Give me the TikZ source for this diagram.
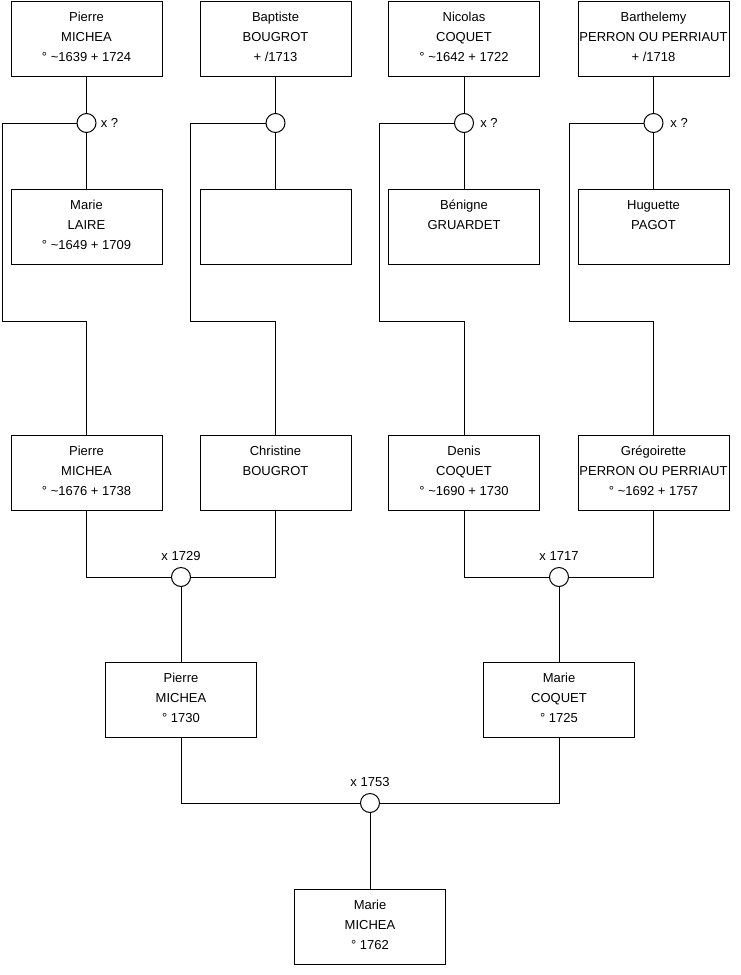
\documentclass[tikz,border=0pt]{standalone}
\usepackage{fontspec}
\setmainfont{Liberation Sans}
\begin{document}
\begin{tikzpicture}[x=0.75pt,y=-0.75pt,
  box/.style={draw, line width=0.75pt, minimum width=113.25pt, minimum height=56.25pt, inner sep=0pt},
  txt/.style={anchor=north, align=center, inner sep=0pt, font=\fontsize{9.75}{15}\selectfont, yshift=-4.9pt},
  ring/.style={circle, draw, line width=0.75pt, fill=white, minimum size=14.25pt, inner sep=0pt},
  lbl/.style={font=\fontsize{9.75}{12}\selectfont, inner sep=0pt},
  link/.style={line width=0.75pt}]
\useasboundingbox (0,0) rectangle (740,975);

% top row
\node[box] (a1) at (86.5,38.5) {};
\node[txt] (ta1) at (a1.north) {\strut Pierre\\MICHEA\\° \textasciitilde1639 + 1724};
\node[box] (a2) at (275.5,38.5) {};
\node[txt] (ta2) at (a2.north) {\strut Baptiste\\BOUGROT\\+ /1713};
\node[box] (a3) at (464,38.5) {};
\node[txt] (ta3) at (a3.north) {\strut Nicolas\\COQUET\\° \textasciitilde1642 + 1722};
\node[box] (a4) at (653.5,38.5) {};
\node[txt] (ta4) at (a4.north) {\strut Barthelemy\\PERRON OU PERRIAUT\\+ /1718};

% spouses
\node[box] (b1) at (86.5,227) {};
\node[txt] (tb1) at (b1.north) {\strut Marie\\LAIRE\\° \textasciitilde1649 + 1709};
\node[box] (b2) at (275.5,227) {};
\node[box] (b3) at (464,227) {};
\node[txt] (tb3) at (b3.north) {\strut Bénigne\\GRUARDET};
\node[box] (b4) at (653.5,227) {};
\node[txt] (tb4) at (b4.north) {\strut Huguette\\PAGOT};

% union circles top
\node[ring, label={[lbl, label distance=3pt]right:x ?}] (m1) at (86.5,123) {};
\node[ring] (m2) at (275.5,123) {};
\node[ring, label={[lbl, label distance=4.5pt]right:x ?}] (m3) at (464,123) {};
\node[ring, label={[lbl, label distance=5pt]right:x ?}] (m4) at (653.5,123) {};

% children row 3
\node[box] (c1) at (86.5,472.5) {};
\node[txt] (tc1) at (c1.north) {\strut Pierre\\MICHEA\\° \textasciitilde1676 + 1738};
\node[box] (c2) at (275.5,472.5) {};
\node[txt] (tc2) at (c2.north) {\strut Christine\\BOUGROT};
\node[box] (c3) at (464,472.5) {};
\node[txt] (tc3) at (c3.north) {\strut Denis\\COQUET\\° \textasciitilde1690 + 1730};
\node[box] (c4) at (653.5,472.5) {};
\node[txt] (tc4) at (c4.north) {\strut Grégoirette\\PERRON OU PERRIAUT\\° \textasciitilde1692 + 1757};

% corner points
\coordinate (k1) at (2,321);
\coordinate (k2) at (190,321);
\coordinate (k3) at (379,321);
\coordinate (k4) at (569,321);

% marriages row 3
\node[ring, label={[lbl, label distance=4.5pt]above:x 1729}] (mm1) at (181,577) {};
\node[ring, label={[lbl, label distance=4.5pt]above:x 1717}] (mm2) at (559,577) {};

% row 4
\node[box] (d1) at (181,699.5) {};
\node[txt] (td1) at (d1.north) {\strut Pierre\\MICHEA\\° 1730};
\node[box] (d2) at (559,699.5) {};
\node[txt] (td2) at (d2.north) {\strut Marie\\COQUET\\° 1725};

\node[ring, label={[lbl, label distance=4.5pt]above:x 1753}] (mm3) at (370,803) {};

\node[box] (e1) at (370,926.5) {};
\node[txt] (te1) at (e1.north) {\strut Marie\\MICHEA\\° 1762};

% connectors
\foreach \i in {1,2,3,4} {
  \draw[link] (a\i.south) -- (m\i.north);
  \draw[link] (m\i.south) -- (b\i.north);
  \draw[link] (m\i.west) -| (k\i) -| (c\i.north);
}
\draw[link] (c1.south) |- (mm1.west);
\draw[link] (c2.south) |- (mm1.east);
\draw[link] (c3.south) |- (mm2.west);
\draw[link] (c4.south) |- (mm2.east);
\draw[link] (mm1.south) -- (d1.north);
\draw[link] (mm2.south) -- (d2.north);
\draw[link] (d1.south) |- (mm3.west);
\draw[link] (d2.south) |- (mm3.east);
\draw[link] (mm3.south) -- (e1.north);
\end{tikzpicture}
\end{document}
